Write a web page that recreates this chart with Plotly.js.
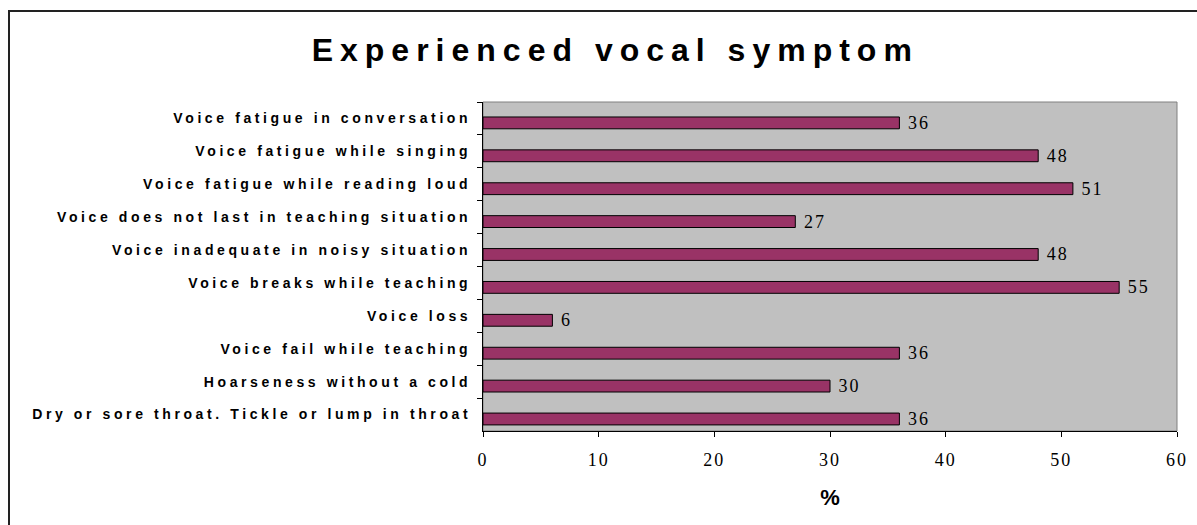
<!DOCTYPE html>
<html>
<head>
<meta charset="utf-8">
<script src="https://cdn.plot.ly/plotly-3.0.1.min.js"></script>
<style>
  html, body { margin: 0; padding: 0; background: #ffffff; }
  #wrap { position: relative; width: 1197px; height: 525px; overflow: hidden; }
  #chart { position: absolute; left: 0; top: 0; width: 1197px; height: 525px; }
  #frame { position: absolute; left: 8px; top: 10px; width: 3000px; height: 3000px;
           border-left: 2px solid #222; border-top: 2px solid #222; pointer-events: none; }
  .ytick text { letter-spacing: 3.6px; }
  .xtick text { letter-spacing: 2px; }
  .bartext { letter-spacing: 2px; }
  .gtitle { letter-spacing: 7px; }
</style>
</head>
<body>
<div id="wrap">
  <div id="chart"></div>
  <div id="frame"></div>
</div>
<script>
// Categories listed top to bottom
const categories = [
  "Voice fatigue in conversation",
  "Voice fatigue while singing",
  "Voice fatigue while reading loud",
  "Voice does not last in teaching situation",
  "Voice inadequate in noisy situation",
  "Voice breaks while teaching",
  "Voice loss",
  "Voice fail while teaching",
  "Hoarseness without a cold",
  "Dry or sore throat. Tickle or lump in throat"
];
const values = [36, 48, 51, 27, 48, 55, 6, 36, 30, 36];
const xTicks = [0, 10, 20, 30, 40, 50, 60];
const chartTitle = "Experienced vocal symptom";
const xTitle = "%";

const sans = "Arial, 'Liberation Sans', sans-serif";
const serif = "'Times New Roman', 'Liberation Serif', serif";

const trace = {
  type: "bar",
  orientation: "h",
  x: values,
  y: categories,
  width: 0.36,
  offset: -0.045,
  marker: { color: "#993366", line: { color: "#000000", width: 1 } },
  texttemplate: "\u2009%{x}",
  textposition: "outside",
  textfont: { family: serif, size: 18, color: "#000000" },
  constraintext: "none",
  cliponaxis: false,
  hoverinfo: "skip"
};

const layout = {
  width: 1197,
  height: 525,
  margin: { l: 483, r: 20, t: 102, b: 94, pad: 0 },
  paper_bgcolor: "#ffffff",
  plot_bgcolor: "#c0c0c0",
  showlegend: false,
  title: {
    text: chartTitle,
    font: { family: sans, size: 32, weight: "bold", color: "#000000" },
    xref: "container", x: 0.514, xanchor: "center",
    yref: "container", y: 1 - 50 / 525, yanchor: "middle"
  },
  xaxis: {
    range: [0, 60],
    tickvals: xTicks,
    ticktext: xTicks.map(String),
    ticks: "outside", ticklen: 5, tickwidth: 1, tickcolor: "#000000",
    showline: true, linecolor: "#000000", linewidth: 1,
    showgrid: false, zeroline: false,
    ticklabelstandoff: 7,
    tickfont: { family: serif, size: 18, color: "#000000" },
    title: { text: xTitle, font: { family: sans, size: 22, weight: "bold", color: "#000000" }, standoff: 21 }
  },
  yaxis: {
    type: "category",
    autorange: "reversed",
    tickson: "boundaries",
    ticks: "outside", ticklen: 5, tickwidth: 1, tickcolor: "#000000",
    showline: true, linecolor: "#000000", linewidth: 1,
    showgrid: false, zeroline: false,
    ticklabelstandoff: 8,
    tickfont: { family: sans, size: 14, weight: "bold", color: "#000000" }
  },
  shapes: [{
    type: "rect", xref: "paper", yref: "paper", x0: 0, x1: 1, y0: 0, y1: 1,
    line: { color: "#808080", width: 1 }, fillcolor: "rgba(0,0,0,0)", layer: "below"
  }]
};

Plotly.newPlot("chart", [trace], layout, { displayModeBar: false, staticPlot: true });
</script>
</body>
</html>
